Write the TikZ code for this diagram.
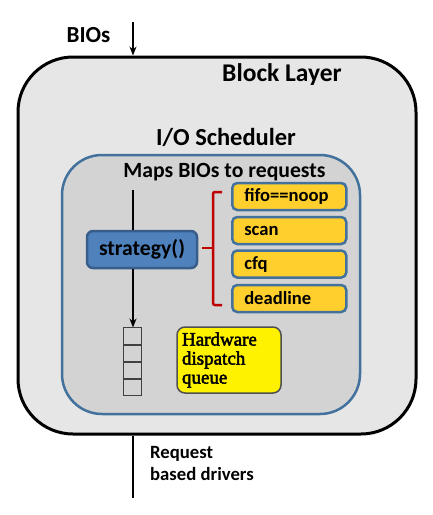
\documentclass[tikz,border=0pt]{standalone}
\usepackage{fontspec}
\setmainfont{Carlito}
\newfontfamily\hwfont{Liberation Serif}
\usetikzlibrary{arrows.meta}
\definecolor{outerfill}{RGB}{230,230,230}
\definecolor{innerfill}{RGB}{211,211,211}
\definecolor{boxblue}{RGB}{65,113,156}
\definecolor{stratfill}{RGB}{79,129,189}
\definecolor{stratdraw}{RGB}{56,93,138}
\definecolor{gold}{RGB}{255,208,45}
\definecolor{bracered}{RGB}{192,0,0}
\definecolor{hwborder}{RGB}{80,80,80}
\newcommand{\fakebold}{\special{pdf:literal direct 0.45 w 2 Tr}}
\tikzset{
  fsz/.style={font=\bfseries\fontsize{#1}{#1}\selectfont},
  txt/.style={inner sep=0pt},
  ybox/.style={draw=boxblue, line width=2.5pt, fill=gold, rounded corners=5pt,
    minimum height=27pt, text width=90pt, inner xsep=12pt, inner ysep=0pt,
    align=left, fsz=18.6, anchor=west},
  cell/.style={draw=black!75, line width=1pt, minimum width=18pt, minimum height=16.25pt, inner sep=0pt},
  arr/.style={-{Stealth[length=9pt,width=7pt]}, line width=1.6pt},
  plain/.style={line width=1.8pt}
}
\begin{document}
\begin{tikzpicture}[x=1pt,y=-1pt]
\useasboundingbox (0,0) rectangle (432,515);
% outer block
\node[draw=black, line width=3pt, fill=outerfill, rounded corners=55pt,
  minimum width=398pt, minimum height=377pt, inner sep=0pt] (outer) at (217,245.5) {};
% inner scheduler box
\node[draw=boxblue, line width=2.5pt, fill=innerfill, rounded corners=40pt,
  minimum width=298pt, minimum height=259pt, inner sep=0pt] (inner) at (211,284.5) {};
% labels
\node[txt, fsz=23, anchor=base] (bios) at (88.5,42) {BIOs};
\node[txt, fsz=25.5, anchor=base] (blk) at (282,81.5) {Block Layer};
\node[txt, fsz=24.5, anchor=base] (ios) at (226,145) {I/O Scheduler};
\node[txt, fsz=21.7, anchor=base] (maps) at (224.5,177) {Maps BIOs to requests};
% strategy
\node[draw=stratdraw, line width=2.5pt, fill=stratfill, rounded corners=6pt,
  minimum width=110pt, minimum height=37pt, inner sep=0pt, fsz=21.7] (strat) at (142,249.5) {strategy()};
% yellow boxes
\node[ybox] (fifo) at (231,196.5) {fifo==noop};
\node[ybox] (scan) at (231,230.5) {scan};
\node[ybox] (cfq) at (231,264) {cfq};
\node[ybox] (dead) at (231,298.5) {deadline};
% brace
\coordinate (bt) at (222,192);
\coordinate (bb) at (222,305);
\coordinate (btip) at (202,248);
\draw[bracered, line width=2.5pt, rounded corners=2pt] (bt) -- (213,192) -- (213,305) -- (bb);
\draw[bracered, line width=2.5pt] (213,248) -- (btip);
% queue
\node[cell] (q1) at (132,336.1) {};
\node[cell, anchor=north] (q2) at (q1.south) {};
\node[cell, anchor=north] (q3) at (q2.south) {};
\node[cell, anchor=north] (q4) at (q3.south) {};
% hardware dispatch queue
\node[draw=hwborder, line width=1.5pt, fill=yellow, rounded corners=8pt,
  minimum width=104pt, minimum height=66pt, text width=94pt, inner xsep=5pt, inner ysep=0pt,
  align=left, font=\hwfont\fontsize{19}{19}\selectfont] (hw) at (229,360) {\fakebold Hardware\\\fakebold dispatch\\\fakebold queue};
% flow lines
\coordinate (bioin) at (133,22);
\draw[arr] (bioin) -- (bioin |- outer.north);
\coordinate (ltop) at (133,190);
\draw[plain] (ltop) -- (ltop |- strat.north);
\draw[arr] (ltop |- strat.south) -- (ltop |- q1.north);
\coordinate (lend) at (133,498);
\draw[plain] (lend |- outer.south) -- (lend);
\node[txt, fsz=18.7, anchor=base west, align=left] (req) at (150,458) {Request};
\node[txt, fsz=18.7, anchor=base west] (drv) at (150,480) {based drivers};
\end{tikzpicture}
\end{document}
